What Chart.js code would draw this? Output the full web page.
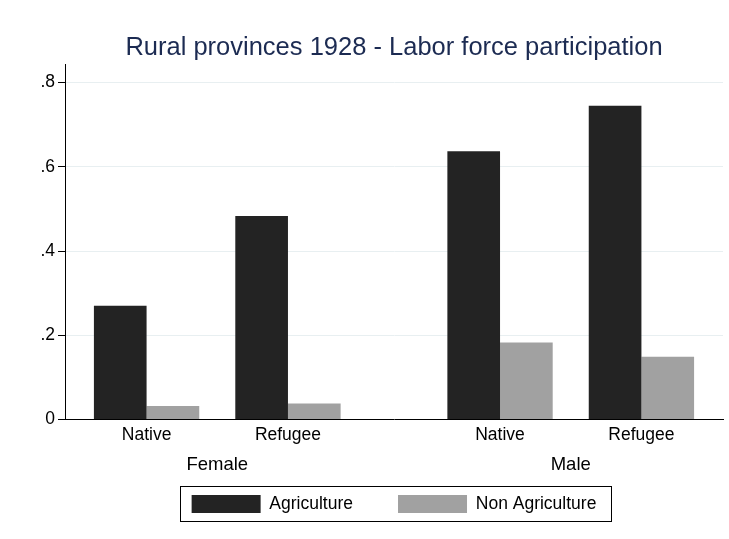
<!DOCTYPE html>
<html>
<head>
<meta charset="utf-8">
<script src="https://cdn.jsdelivr.net/npm/chart.js@4"></script>
<style>
  html, body { margin: 0; padding: 0; background: #fff; }
  #wrap { width: 729px; height: 539px; }
</style>
</head>
<body>
<div id="wrap"><canvas id="c" width="729" height="539"></canvas></div>
<script>
// ---- data ----
const groups = ['Female', 'Male'];
const subgroups = ['Native', 'Refugee'];
const seriesNames = ['Agriculture', 'Non Agriculture'];
const agriculture = [0.270, 0.483, 0.637, 0.745];
const nonAgriculture = [0.032, 0.038, 0.183, 0.149];
const yTicks = [0, 0.2, 0.4, 0.6, 0.8];
const yTickLabels = ['0', '.2', '.4', '.6', '.8'];
const titleText = 'Rural provinces 1928 - Labor force participation';

// slot positions derived from the group structure (half-slot gap between groups)
const groupGap = 0.5;
const slotPos = [];
const slotLabels = [];
groups.forEach((g, gi) => subgroups.forEach((s, si) => {
  slotPos.push(gi * (subgroups.length + groupGap) + si);
  slotLabels.push(s);
}));
const groupPos = groups.map((g, gi) => gi * (subgroups.length + groupGap) + (subgroups.length - 1) / 2);
const toXY = arr => arr.map((v, i) => ({ x: slotPos[i], y: v }));

// x ticks: subgroup labels on line 1, group labels on line 2
const xTicks = slotPos.map((p, i) => ({ value: p, label: slotLabels[i], group: false }))
  .concat(groupPos.map((p, i) => ({ value: p, label: ['', groups[i]], group: true })))
  .sort((a, b) => a.value - b.value);

const FONT = "'Liberation Sans', Arial, Helvetica, sans-serif";
Chart.defaults.font.family = FONT;
Chart.defaults.color = '#000';

const xMin = -0.577, xMax = slotPos[slotPos.length - 1] + 0.577;

// let the two-line x labels run below the axis box (into the legend's empty top padding)
const unclipXLabels = {
  id: 'unclipXLabels',
  afterLayout(chart) {
    const sx = chart.scales.x;
    if (sx) sx._computeLabelArea = () => undefined;
  }
};

const legendBorder = {
  id: 'legendBorder',
  afterDraw(chart) {
    const lg = chart.legend;
    if (!lg || !lg.legendHitBoxes || !lg.legendHitBoxes.length) return;
    const hb = lg.legendHitBoxes;
    const first = hb[0], last = hb[hb.length - 1];
    const l = first.left - 12, t = first.top - 9;
    const r = last.left + last.width + 14, b = first.top + first.height + 8;
    const ctx = chart.ctx;
    ctx.save();
    ctx.strokeStyle = '#000';
    ctx.lineWidth = 1;
    ctx.strokeRect(Math.round(l) + 0.5, Math.round(t) + 0.5, Math.round(r - l), Math.round(b - t));
    ctx.restore();
  }
};

new Chart(document.getElementById('c'), {
  type: 'bar',
  data: {
    datasets: [
      { label: seriesNames[0], data: toXY(agriculture), backgroundColor: '#232323', borderWidth: 0 },
      { label: seriesNames[1], data: toXY(nonAgriculture), backgroundColor: '#a1a1a1', borderWidth: 0 }
    ]
  },
  options: {
    responsive: false,
    animation: false,
    // min tick spacing is half a slot (group ticks), so the pair spans 1.49 of it
    categoryPercentage: 1.49,
    barPercentage: 1,
    layout: { padding: { left: 40, right: 6, top: 0, bottom: 16 } },
    plugins: {
      title: {
        display: true,
        text: titleText,
        fullSize: false,
        color: '#1c2b52',
        font: { size: 25.5, weight: 'normal', family: FONT },
        padding: { top: 33, bottom: 0.4 }
      },
      legend: {
        display: true,
        position: 'bottom',
        fullSize: false,
        labels: {
          boxWidth: 69,
          boxHeight: 18,
          padding: 45,
          color: '#000',
          font: { size: 17.5, family: FONT }
        }
      },
      tooltip: { enabled: false }
    },
    scales: {
      x: {
        type: 'linear',
        offset: false,
        min: xMin,
        max: xMax,
        afterBuildTicks: s => { s.ticks = xTicks.map(t => ({ value: t.value })); },
        afterFit: s => { s.height = 30.5; },
        ticks: {
          autoSkip: false,
          maxRotation: 0,
          padding: 0.5,
          color: '#000',
          font: c => (xTicks[c.index] && xTicks[c.index].group)
            ? { size: 18.5, family: FONT, lineHeight: 30 / 18.5 }
            : { size: 17.5, family: FONT, lineHeight: 30 / 17.5 },
          callback: (v, i) => xTicks[i].label
        },
        grid: { display: false, drawTicks: false, offset: false },
        border: { display: true, color: '#000', width: 1 }
      },
      y: {
        type: 'linear',
        min: 0,
        max: 0.844,
        afterBuildTicks: s => { s.ticks = yTicks.map(v => ({ value: v })); },
        afterFit: s => { s.width = 25; },
        ticks: {
          padding: 3,
          color: '#000',
          font: { size: 17.5, family: FONT },
          callback: (v, i) => yTickLabels[i]
        },
        grid: {
          color: c => (c.tick && c.tick.value === 0) ? 'rgba(0,0,0,0)' : '#e8eff1',
          tickColor: '#000',
          tickLength: 7,
          lineWidth: 1
        },
        border: { display: true, color: '#000', width: 1 }
      }
    }
  },
  plugins: [unclipXLabels, legendBorder]
});
</script>
</body>
</html>
